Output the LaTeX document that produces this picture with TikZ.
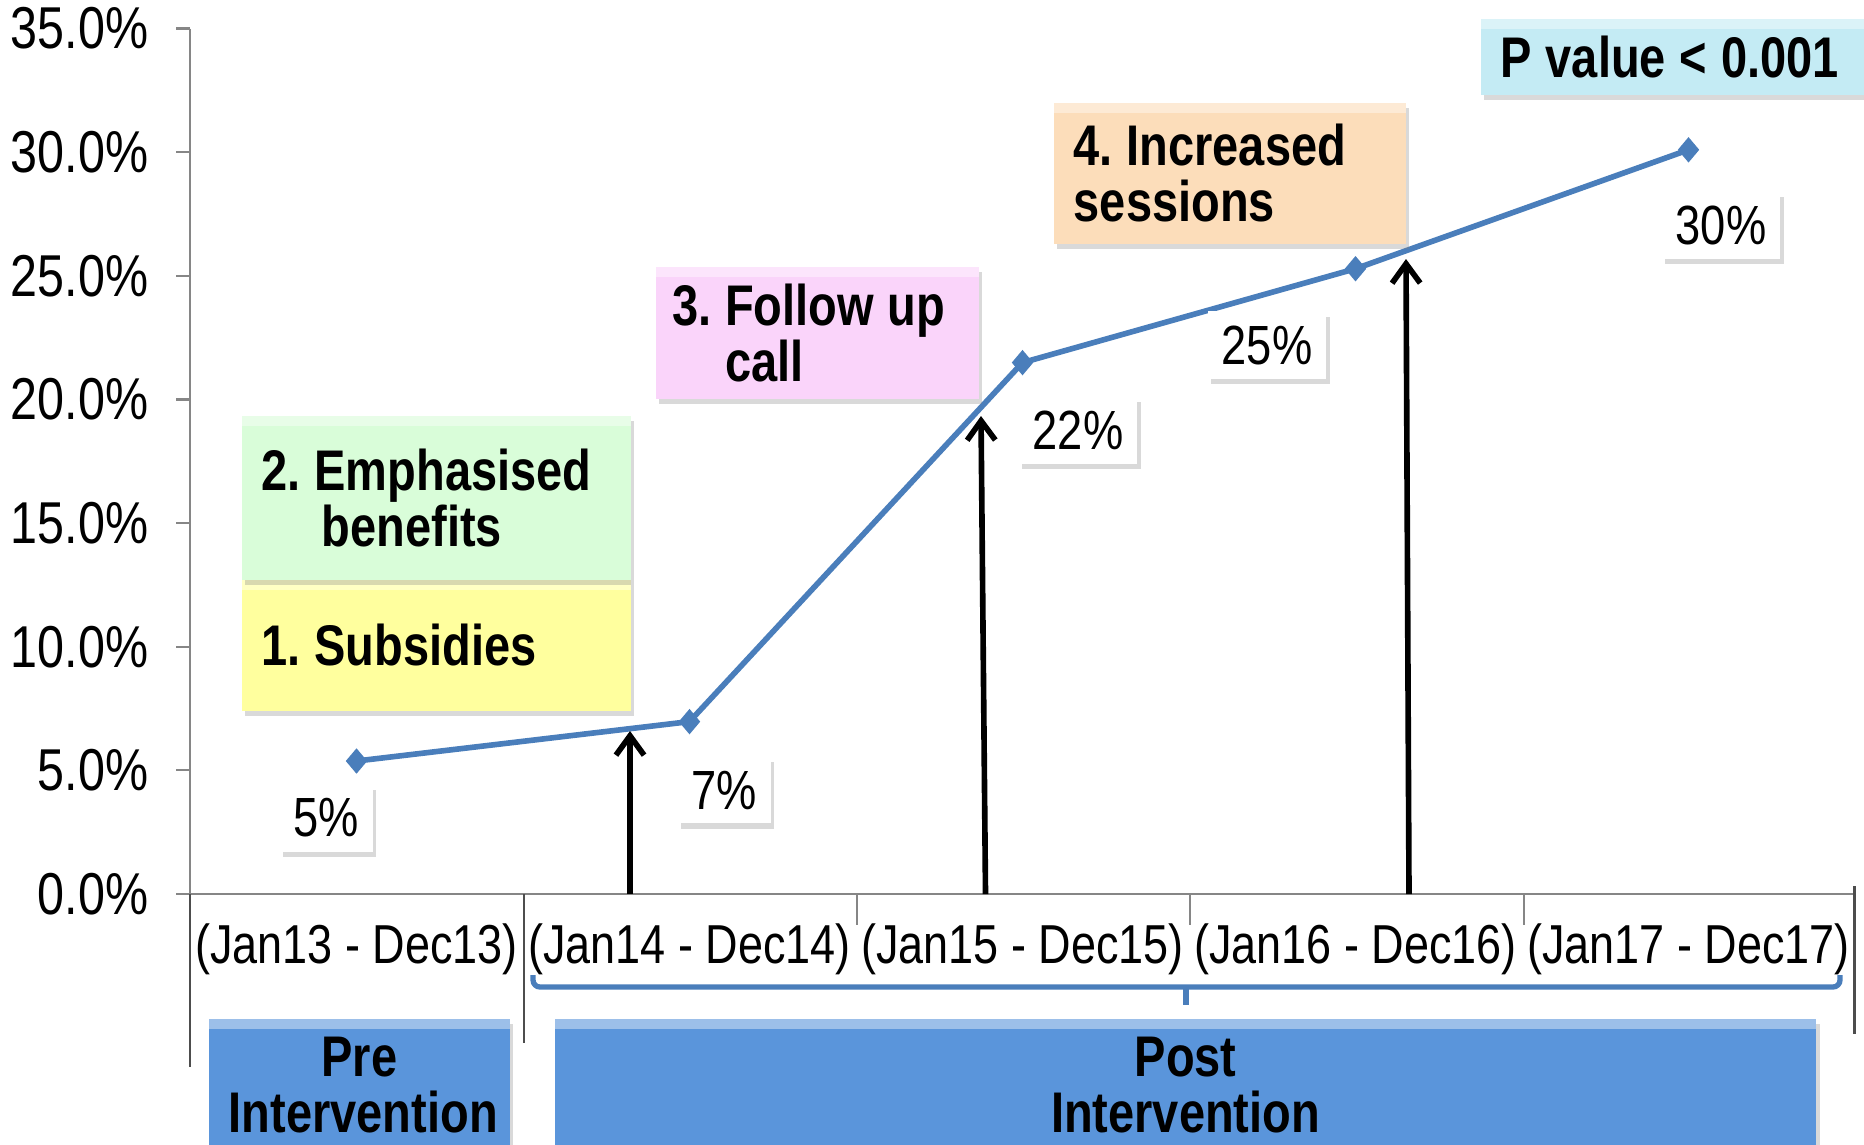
\documentclass[tikz,border=0pt]{standalone}
\usepackage{fontspec}
\setmainfont{Liberation Sans}[FakeStretch=0.82]
\usetikzlibrary{arrows.meta,positioning,shapes.geometric,shadows}
\frenchspacing

\definecolor{axisgray}{HTML}{868686}
\definecolor{divgray}{HTML}{4D4D4D}
\definecolor{lineblue}{HTML}{4A7EBB}
\definecolor{subsidy}{HTML}{FFFF9E}
\definecolor{benefit}{HTML}{D9FDD9}
\definecolor{followup}{HTML}{FAD4FA}
\definecolor{session}{HTML}{FCDDBA}
\definecolor{pvalue}{HTML}{C4EBF4}
\definecolor{phase}{HTML}{5A95DB}

\begin{document}
\begin{tikzpicture}
	[x=0.01cm,y=-0.01cm,
	box/.style={rectangle,anchor=north west,align=left,inner xsep=0.2cm,
		font=\fontsize{16.3}{16}\selectfont\bfseries,
		execute at begin node={\spaceskip=0.24em plus 0.05em minus 0.03em\relax},
		drop shadow={shadow xshift=1pt,shadow yshift=-1.5pt,opacity=.3},
		path picture={\fill[white,opacity=.4] (path picture bounding box.north west)
			rectangle ([yshift=-3pt]path picture bounding box.north east);}},
	phasebox/.style={box,fill=phase,align=center,minimum height=1.32cm},
	lab/.style={fill=white,inner xsep=4pt,inner ysep=4pt,font=\fontsize{15.7}{16}\selectfont,
		drop shadow={shadow xshift=1pt,shadow yshift=-1.5pt,opacity=.3}},
	datapt/.style={diamond,fill=lineblue,inner sep=0pt,minimum width=0.22cm,minimum height=0.26cm},
	arr/.style={-{Straight Barb[length=5.5pt,width=8pt]},line width=1.6pt},
	ticklab/.style={font=\fontsize{16.8}{17}\selectfont,anchor=east,inner sep=0pt},
	cat/.style={font=\fontsize{15.6}{16}\selectfont,inner sep=0pt}]
	\useasboundingbox (0,0) rectangle (1864,1144);
	
	% axes
	\draw[axisgray,line width=0.6pt] (190,28.5) -- (190,894) -- (1854.5,894);
	\foreach \v/\t in {0/0.0,1/5.0,2/10.0,3/15.0,4/20.0,5/25.0,6/30.0,7/35.0}{
		\draw[axisgray,line width=0.6pt] (176,{894-123.64*\v}) -- (190,{894-123.64*\v});
		\node[ticklab] (y\v) at (149,{894-123.64*\v}) {\t\%};
	}
	\foreach \x in {857,1190,1524}
		\draw[axisgray,line width=0.6pt] (\x,894) -- (\x,925);
	\draw[divgray,line width=0.6pt] (190,894) -- (190,1067);
	\draw[divgray,line width=0.6pt] (524,894) -- (524,1043);
	\draw[divgray,line width=0.6pt] (1854.5,886) -- (1854.5,1034);
	\foreach \i in {1,...,5}{
		\pgfmathtruncatemacro\yr{12+\i}
		\node[cat] (c\i) at ({190+333*(\i-0.5)},949) {(Jan\yr{} - Dec\yr)};
	}
	
	% data
	\coordinate (p1) at (356.5,761);
	\coordinate (p2) at (689.5,721.6);
	\coordinate (p3) at (1022.5,362.6);
	\coordinate (p4) at (1355.5,268.7);
	\coordinate (p5) at (1688.5,149.8);
	\draw[lineblue,line width=1.6pt] (p1) -- (p2) -- (p3) -- (p4) -- (p5);
	\foreach \i in {1,...,5}
		\node[datapt] (d\i) at (p\i) {};
	
	\node[lab] (l1) at (326,818) {5\%};
	\node[lab] (l2) at (724,790) {7\%};
	\node[lab] (l3) at (1078,430) {22\%};
	\node[lab] (l4) at (1267,345) {25\%};
	\node[lab] (l5) at (1721,225) {30\%};
	
	% interventions
	\node[box,fill=subsidy,minimum width=3.89cm,minimum height=1.31cm,text width=3.49cm] (sub) at (241,579) {1. Subsidies};
	\node[box,fill=benefit,minimum width=3.89cm,minimum height=1.64cm,text width=3.49cm] (ben) at (241,415) {2. Emphasised\\\hspace*{0.6cm}benefits};
	\node[box,fill=followup,minimum width=3.23cm,minimum height=1.32cm,text width=2.9cm,inner xsep=0.165cm] (fol) at (655,266) {3. Follow up\\\hspace*{0.53cm}call};
	\node[box,fill=session,minimum width=3.52cm,minimum height=1.41cm,text width=3.12cm] (ses) at (1053,102) {4. Increased\\sessions};
	\node[box,fill=pvalue,minimum width=4.2cm,minimum height=0.76cm,text width=3.8cm] (pv) at (1480,18) {P value < 0.001};
	
	\coordinate (s1) at (630,894);
	\coordinate (t1) at (630,731);
	\coordinate (s2) at (985.5,894);
	\coordinate (t2) at (981,416);
	\coordinate (s3) at (1409,894);
	\coordinate (t3) at (1406,259);
	\draw[arr] (s1) -- (t1);
	\draw[arr] (s2) -- (t2);
	\draw[arr] (s3) -- (t3);
	
	% periods
	\draw[lineblue,line width=1.5pt,rounded corners=2pt] (533,975) -- (533,987) -- (1840,987) -- (1840,975);
	\draw[lineblue,line width=1.5pt] (1186,987) -- (1186,1005);
	\node[phasebox,minimum width=3.01cm,text width=2.61cm] (pre) at (208,1018) {Pre\\Intervention};
	\node[phasebox,minimum width=12.61cm,text width=12.21cm] (post) at (554,1018) {Post\\Intervention};
	
\end{tikzpicture}
\end{document}
